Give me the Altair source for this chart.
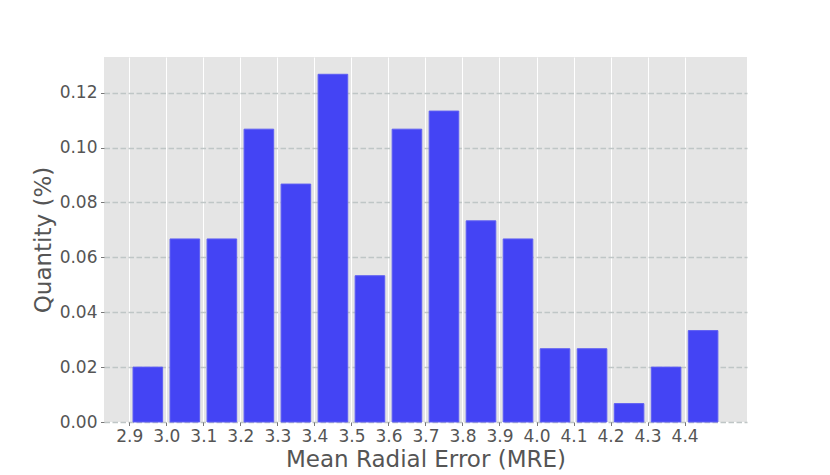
import altair as alt
import pandas as pd

# bin start (tick labels) and quantity fractions
bins = [2.9, 3.0, 3.1, 3.2, 3.3, 3.4, 3.5, 3.6, 3.7, 3.8, 3.9, 4.0, 4.1, 4.2, 4.3, 4.4]
quantity = [0.0200, 0.0667, 0.0667, 0.1067, 0.0867, 0.1267, 0.0533, 0.1067,
            0.1133, 0.0733, 0.0667, 0.0267, 0.0267, 0.0067, 0.0200, 0.0333]
y_ticks = [0.0, 0.02, 0.04, 0.06, 0.08, 0.10, 0.12]

df = pd.DataFrame({"start": bins, "q": quantity, "base": [0.0] * len(bins)})

FONT = "DejaVu Sans"

bars = alt.Chart(df).transform_calculate(
    x0="datum.start + 0.01",
    x1="datum.start + 0.09",
).mark_bar(
    color="#4444F4", stroke="#5E5EF3", strokeWidth=1
).encode(
    x=alt.X(
        "x0:Q",
        scale=alt.Scale(domain=[2.8316, 4.5686], nice=False, zero=False),
        axis=alt.Axis(
            title="Mean Radial Error (MRE)",
            values=bins,
            format=".1f",
            grid=True,
            gridColor="#FFFFFF",
            gridWidth=1,
            domain=False,
            tickColor="#555555",
            tickSize=3.5,
            tickWidth=0.8,
            labelPadding=3,
            labelFlush=False,
            labelFont=FONT,
            labelFontSize=17,
            labelColor="#555555",
            titleFont=FONT,
            titleFontSize=23,
            titleFontWeight="normal",
            titleColor="#555555",
            titlePadding=4,
        ),
    ),
    x2="x1:Q",
    y=alt.Y(
        "q:Q",
        scale=alt.Scale(domain=[0, 0.133], nice=False),
        axis=alt.Axis(
            title="Quantity (%)",
            values=y_ticks,
            format=".2f",
            grid=True,
            gridColor="#BFC6C6",
            gridWidth=1.5,
            gridDash=[5.5, 2.5],
            domain=False,
            tickColor="#555555",
            tickSize=3.5,
            tickWidth=0.8,
            labelPadding=3.5,
            labelFont=FONT,
            labelFontSize=17,
            labelColor="#555555",
            titleFont=FONT,
            titleFontSize=23,
            titleFontWeight="normal",
            titleColor="#555555",
            titlePadding=4,
        ),
    ),
    y2="base:Q",
).properties(
    width=643,
    height=365,
    autosize=alt.AutoSizeParams(type="none"),
    padding={"left": 96, "top": 49, "right": 70, "bottom": 50},
).configure_view(
    fill="#E5E5E5", strokeWidth=0
)

chart = bars
chart.save("out.html", embed_options={"renderer": "svg", "actions": False})
